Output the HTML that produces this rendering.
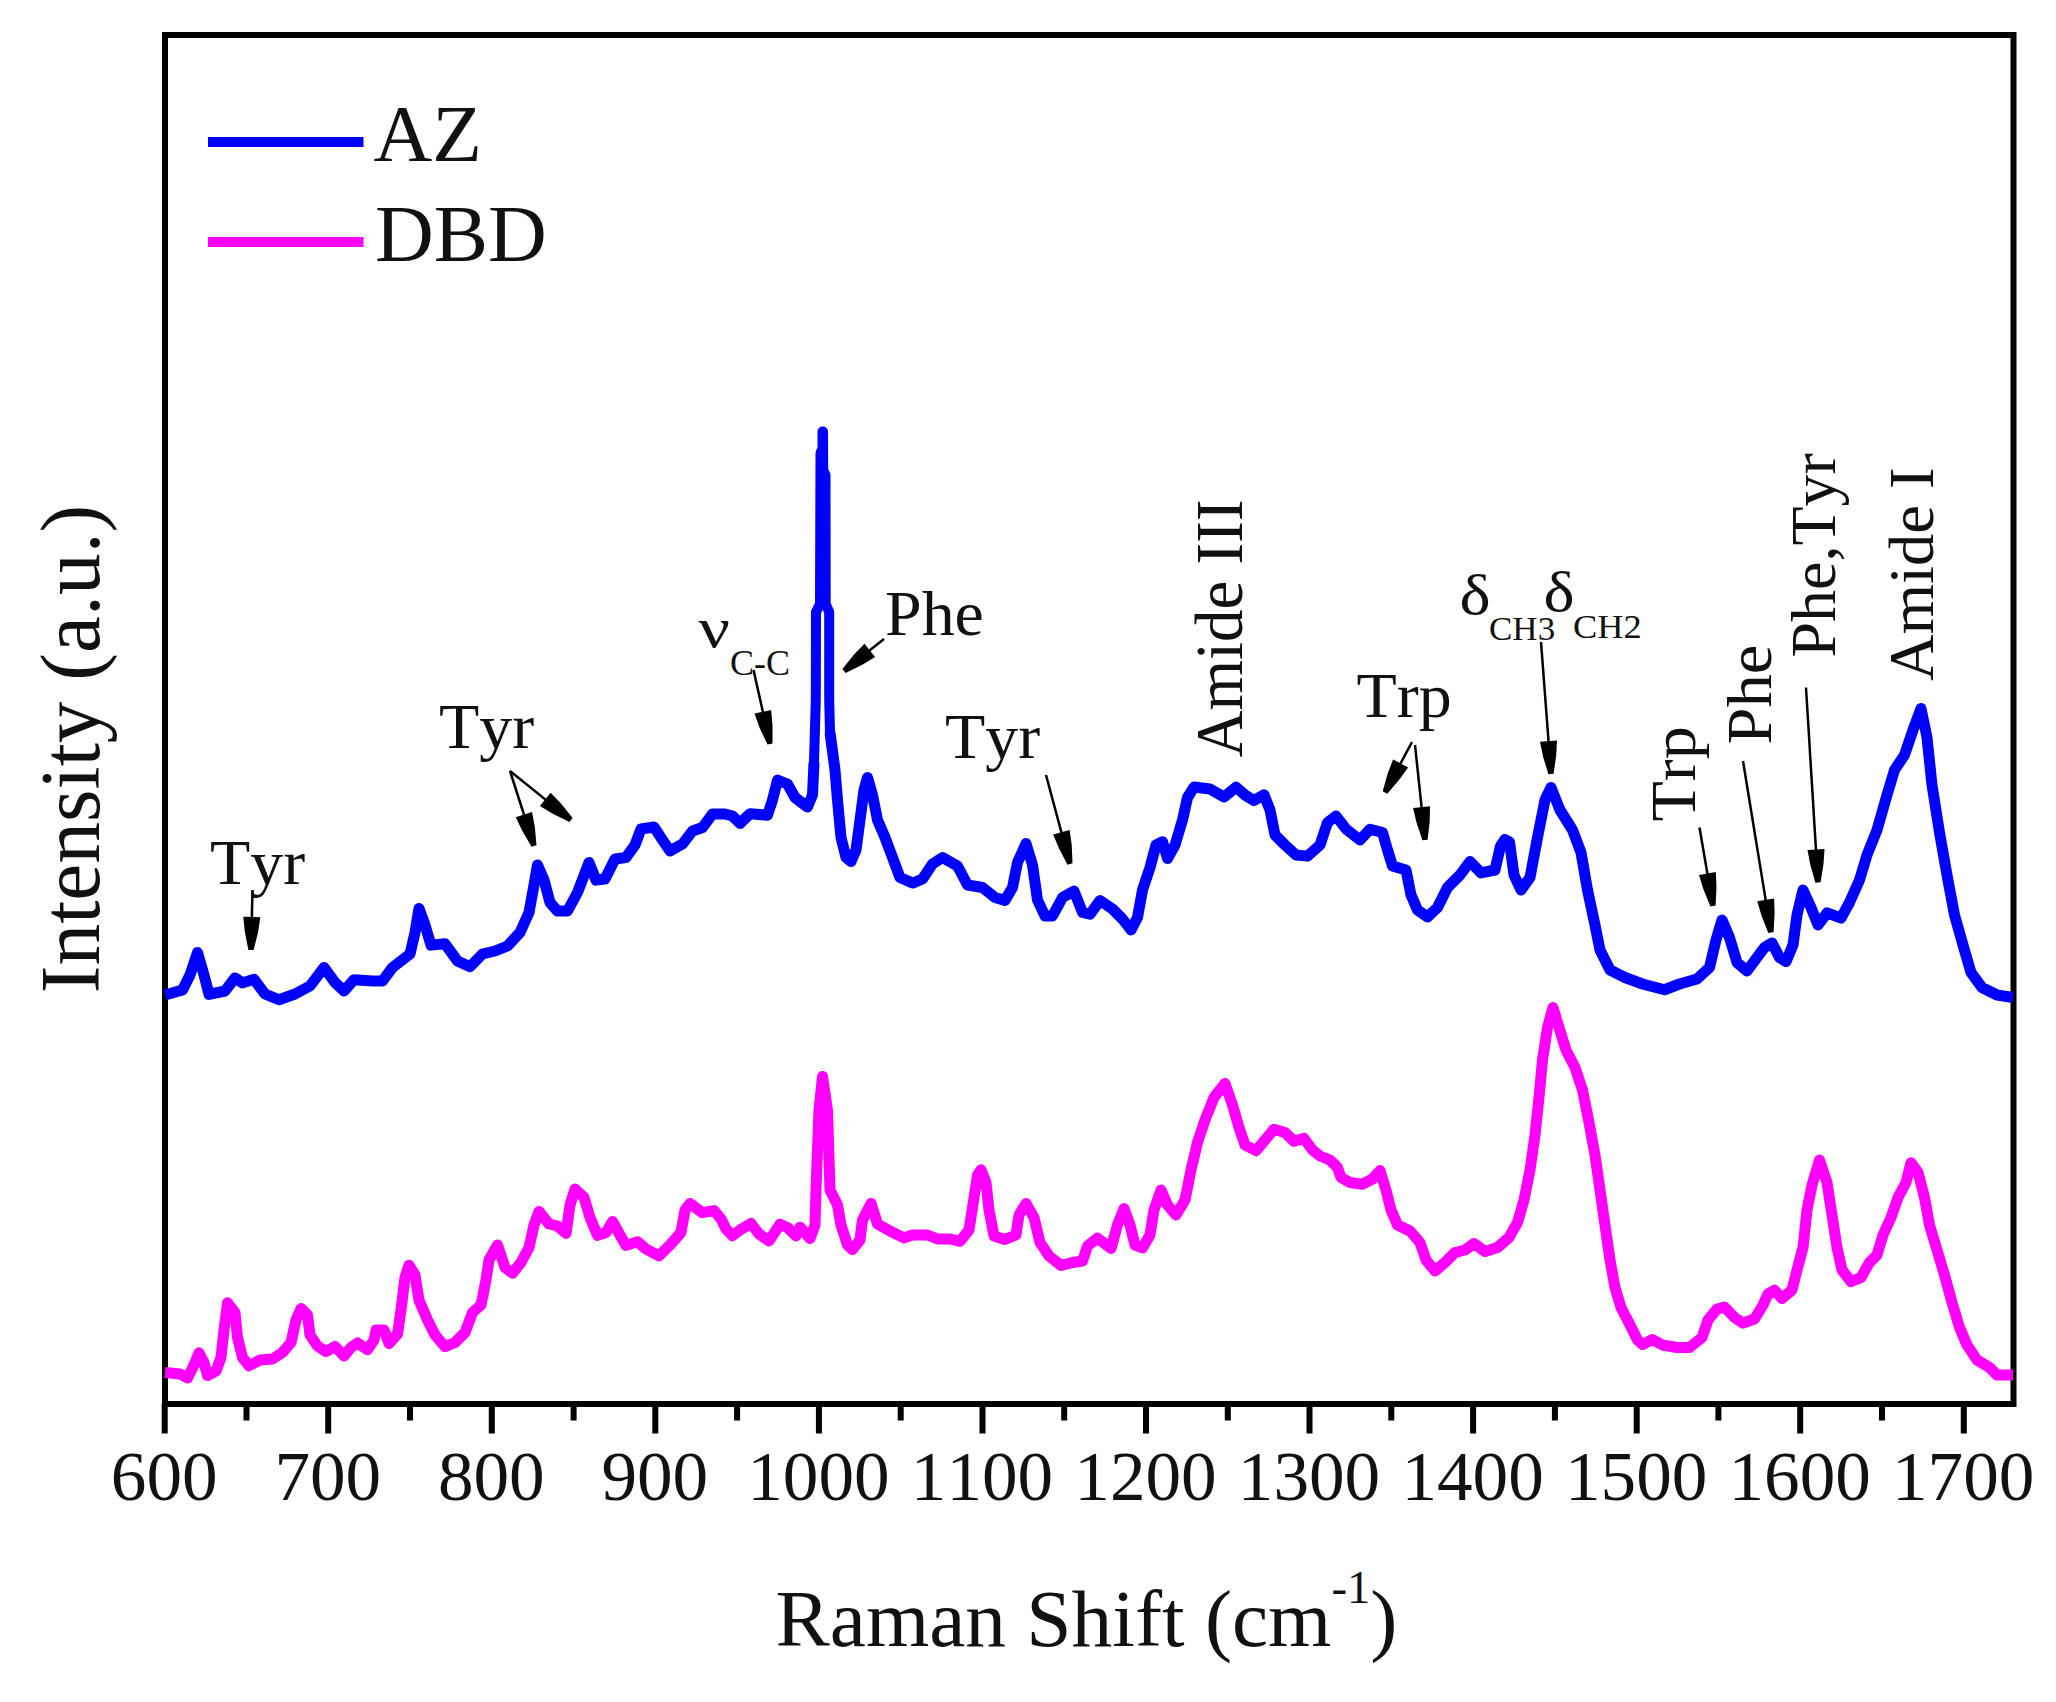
<!DOCTYPE html>
<html><head><meta charset="utf-8"><title>Raman spectra</title>
<style>
html,body{margin:0;padding:0;background:#fff;}
body{width:2056px;height:1702px;overflow:hidden;}
svg{display:block;}
svg text{font-kerning:none;font-family:"Liberation Serif","Times New Roman",serif;fill:#111;}
</style></head><body>
<svg width="2056" height="1702" viewBox="0 0 2056 1702">
<rect width="2056" height="1702" fill="#fff"/>
<rect x="165" y="35" width="1848.5" height="1369" fill="none" stroke="#000" stroke-width="6"/>
<g fill="none" stroke-linejoin="round" stroke-linecap="butt" stroke-width="11">
<polyline stroke="#0000ff" points="165,995 182.5,990 190,975 197.5,952.5 204,975 209,994.45 225,991 235,977.95 242.5,982.875 254,979.25 265,994 279,999.75 295,994 310,986 324,967.5 335,982.5 344,991 354,979.7 372.5,981 382.5,981 392.5,967.5 410,954 415,932.5 419,908.5 425,925 431,945.15 445,943.7 457.5,961 470,966.75 482.5,954 495,951 507.5,946 520,932.5 529,912.5 534,885 537.5,865 544,880 550,902.5 557.5,911 567.5,911 577.5,892.5 589,862.5 596,880.15 605,879 615,859 626,857.5 635,845 641,829 654,827.05 662.5,840 670,850.9 682.5,844 692.5,831 702.5,827.5 712.5,814 725,814 732.5,816 740,823.475 750,813.7 767.5,815.15 772.5,800 777.5,780.1 787.5,784 795,797.5 807.5,807 812.5,795 814,762.5"/>
<polyline stroke="#0000ff" stroke-width="10" stroke-linecap="round" points="814,762.5 815.8,700 816,612 820,604 820.5,453 822.5,448 822.5,431.5 823,431.5 823.2,470 825.5,475 825.7,604 829.2,612 829.2,700 830,732.5"/>
<polyline stroke="#0000ff" points="830,732.5 835,770 837.5,800 841,837.5 846,857.5 851,861.525 856,850 860,820 864,790 867.5,777.5 872.5,795 877.5,820 885,837.5 892.5,857.5 900,877.5 912.5,883.025 922.5,879 932.5,864 942.5,857.5 957.5,866 967.5,885 982.5,887.5 995,897.5 1005,900.375 1012.5,887.5 1017.5,862.5 1026,843.5 1032.5,865 1037.5,900 1045,916 1052.5,916 1062.5,897.5 1074,891 1082.5,912.5 1090,914.225 1100,900.55 1112.5,909 1122.5,919 1131,930 1137.5,917.5 1142.5,890 1150,867.5 1156,845 1162.5,841.75 1167.5,858.5 1175,845 1182.5,820 1187.5,797.5 1194,787.05 1210,789 1224,797 1236,787.2 1245,795 1254,800.6 1264,794.8 1270,810 1275,835 1285,845 1296,855 1307.5,856.15 1320,845 1327.5,822.5 1336,816 1346,829 1360,840 1370,829.25 1382.5,832.5 1387.5,850 1392.5,866 1406,870 1411,895 1417.5,910 1427.5,916.9 1437.5,907.5 1447.5,887.5 1460,875 1470,861.5 1481,872.875 1495,870 1500.5,846 1505,839.4 1509.5,842 1514,875 1521,890 1530,877.5 1537.5,837.5 1545,800 1551,787.5 1560,810 1572.5,830 1581,852.5 1587.5,890 1595,925 1600,950 1610,970 1625,977.5 1642.5,984 1664.5,989.75 1679.5,984 1697,979 1709.5,967.5 1716,940 1722,920 1729.5,937.5 1737,962.5 1747,971 1757,957.5 1764.5,947.5 1772,942.95 1779.5,957.5 1786,961.525 1793,945 1797,915 1803,890 1811,907.5 1818,925 1827,912.95 1841,918.025 1849.5,902.5 1859.5,880 1867,855 1877,830 1887,795 1894.5,770 1904.5,755 1913,730 1921,708.5 1927,737.5 1932,785 1939.5,832.5 1947,875 1954.5,915 1963,945 1971,972.5 1982,987.5 1997,995 2013,997.5"/>
<polyline stroke="#ff00ff" points="165,1372.5 180,1374 187.5,1378.03 194,1365 199,1352.75 204,1362.5 207.5,1375.6 216,1371 221,1357.5 224,1330 227.5,1302.75 235,1312.5 237.5,1337.5 242.5,1357.5 249,1365.75 260,1360 272.5,1359 282.5,1352.5 291,1342.5 296,1320 301,1308.5 307.5,1315 310,1335 317.5,1346 326,1351.53 335,1346.45 344,1356 351,1347.5 357.5,1342.95 367.5,1349.75 374,1340 376,1330 384,1330 389,1343.5 397.5,1334 401,1310 405,1277.5 409,1265.25 415,1275 419,1300 427.5,1320 435,1335 445,1346.53 455,1342.5 465,1332.5 472.5,1312.5 481,1305 486,1280 489,1260 497.5,1245 505,1267.5 512.5,1273.25 521,1262.5 529,1247.5 534,1225 539,1211.5 549,1224 557.5,1226 566,1233.47 570,1205 575,1189.05 584,1197.5 590,1217.5 597.5,1235.38 606,1232.5 612.5,1221.5 620,1235 626,1245.38 637.5,1241.75 646,1249 659,1255.9 670,1245 681,1232.5 685,1210 690,1203.5 702.5,1212.72 714,1210.55 721,1219 726,1229 732.5,1235.75 740,1230 751,1223.5 759,1234 769,1240.9 780,1224.25 787.5,1227.5 796,1235.9 800,1227.2 810,1238.5 815,1225 816,1190 819,1110 822.5,1076.5 827.5,1110 830,1190 837.5,1205 841,1225 847.5,1245 852.5,1249.6 860,1240 862.5,1220 871,1203.5 877.5,1224 890,1231 904,1237.88 912.5,1235 927.5,1235 937.5,1239 950,1239 960,1241.3 969,1230 972.5,1207.5 977.5,1175 981,1169.8 986,1182.5 989,1210 994,1236 1005,1239.45 1016,1235 1019,1215 1026,1203.5 1034,1217.5 1040,1242.5 1049,1256 1061,1265.38 1072.5,1262.5 1082.5,1261 1087.5,1246 1097.5,1238.2 1111,1248.5 1117.5,1225 1124,1208.5 1130,1225 1135,1245 1142.5,1247.88 1150,1235 1154,1210 1161,1190 1167.5,1205 1176,1215 1185,1200 1191,1170 1197.5,1142.5 1205,1120 1214,1097.5 1225,1083.5 1232.5,1105 1239,1127.5 1245,1145 1256,1150.75 1265,1140 1274,1129.25 1285,1132.5 1294,1141.3 1304,1138.4 1312.5,1150 1320,1156 1330,1160 1337.5,1167.5 1341,1177.5 1350,1182.5 1362.5,1184.22 1372.5,1179 1380,1170.55 1386,1190 1391,1210 1397.5,1225 1410,1231 1420,1242.5 1426,1260 1435,1271 1445,1262.5 1455,1252.5 1465,1250 1474,1243.5 1485,1251.53 1497.5,1247.5 1509,1237.5 1517.5,1222.5 1524,1200 1530,1170 1535,1135 1539,1097.5 1542.5,1060 1547.5,1027.5 1553,1007.5 1559,1027.5 1566,1050 1575,1067.5 1582.5,1090 1589,1122.5 1595,1155 1600,1190 1605,1225 1610,1260 1615,1287.5 1621,1307.5 1630,1325 1637.5,1340 1642.5,1344.53 1652.5,1339.45 1662.5,1345 1677,1347.5 1689.5,1347.5 1702,1337.5 1708,1320 1717,1309 1724.5,1307.05 1734.5,1317.5 1743,1323.03 1754.5,1319 1763,1305 1768,1294 1774.5,1290.1 1782,1298.47 1792,1290 1797,1270 1803,1247.5 1807,1210 1812,1185 1819.5,1160 1827,1182.5 1832,1215 1837,1247.5 1842,1270 1851,1281.53 1861,1277.5 1869.5,1262.5 1877,1255 1883,1235 1891,1217.5 1898,1197.5 1906,1182.5 1911,1162.75 1918,1172.5 1924.5,1197.5 1929.5,1225 1937,1250 1944.5,1275 1952,1302.5 1959.5,1327.5 1967,1345 1977,1360 1989.5,1367.5 1997,1375 2013,1375"/>
</g>
<g stroke="#000" stroke-width="6">
<line x1="164.7" y1="1404" x2="164.7" y2="1433.5"/><line x1="328.2" y1="1404" x2="328.2" y2="1433.5"/><line x1="491.8" y1="1404" x2="491.8" y2="1433.5"/><line x1="655.3" y1="1404" x2="655.3" y2="1433.5"/><line x1="818.9" y1="1404" x2="818.9" y2="1433.5"/><line x1="982.5" y1="1404" x2="982.5" y2="1433.5"/><line x1="1146.0" y1="1404" x2="1146.0" y2="1433.5"/><line x1="1309.5" y1="1404" x2="1309.5" y2="1433.5"/><line x1="1473.1" y1="1404" x2="1473.1" y2="1433.5"/><line x1="1636.7" y1="1404" x2="1636.7" y2="1433.5"/><line x1="1800.2" y1="1404" x2="1800.2" y2="1433.5"/><line x1="1963.8" y1="1404" x2="1963.8" y2="1433.5"/><line x1="246.5" y1="1404" x2="246.5" y2="1420.5"/><line x1="410.0" y1="1404" x2="410.0" y2="1420.5"/><line x1="573.6" y1="1404" x2="573.6" y2="1420.5"/><line x1="737.1" y1="1404" x2="737.1" y2="1420.5"/><line x1="900.7" y1="1404" x2="900.7" y2="1420.5"/><line x1="1064.2" y1="1404" x2="1064.2" y2="1420.5"/><line x1="1227.8" y1="1404" x2="1227.8" y2="1420.5"/><line x1="1391.3" y1="1404" x2="1391.3" y2="1420.5"/><line x1="1554.9" y1="1404" x2="1554.9" y2="1420.5"/><line x1="1718.4" y1="1404" x2="1718.4" y2="1420.5"/><line x1="1882.0" y1="1404" x2="1882.0" y2="1420.5"/>
</g>
<g font-size="70">
<text transform="translate(164.2,1499.8) scale(1.017,1)" text-anchor="middle">600</text><text transform="translate(327.8,1499.8) scale(1.017,1)" text-anchor="middle">700</text><text transform="translate(491.3,1499.8) scale(1.017,1)" text-anchor="middle">800</text><text transform="translate(654.8,1499.8) scale(1.017,1)" text-anchor="middle">900</text><text transform="translate(818.4,1499.8) scale(1.017,1)" text-anchor="middle">1000</text><text transform="translate(982.0,1499.8) scale(1.017,1)" text-anchor="middle">1100</text><text transform="translate(1145.5,1499.8) scale(1.017,1)" text-anchor="middle">1200</text><text transform="translate(1309.0,1499.8) scale(1.017,1)" text-anchor="middle">1300</text><text transform="translate(1472.6,1499.8) scale(1.017,1)" text-anchor="middle">1400</text><text transform="translate(1636.2,1499.8) scale(1.017,1)" text-anchor="middle">1500</text><text transform="translate(1799.7,1499.8) scale(1.017,1)" text-anchor="middle">1600</text><text transform="translate(1963.2,1499.8) scale(1.017,1)" text-anchor="middle">1700</text>
</g>
<line x1="208" y1="142" x2="363.5" y2="142" stroke="#0000ff" stroke-width="10"/>
<line x1="208" y1="242" x2="363.5" y2="242" stroke="#ff00ff" stroke-width="10"/>
<text transform="translate(373.5,160.7) scale(1.017,1)" font-size="80">AZ</text>
<text transform="translate(375,260.5) scale(1.017,1)" font-size="80">DBD</text>
<text id="xt" transform="translate(775.6,1645.6) scale(1.017,1)" font-size="80">Raman Shift (cm<tspan font-size="46" dy="-43" dx="0">-1</tspan><tspan dy="43" dx="0">)</tspan></text>
<text id="yt" transform="translate(98.9,993.3) rotate(-90) scale(1,1.02)" font-size="83.4">Intensity (a.u.)</text>
<g font-size="64">
<text transform="translate(210.0,883.5) scale(1.03,1)">Tyr</text>
<text transform="translate(439.0,747.5) scale(1.03,1)">Tyr</text>
<text transform="translate(945.0,757.5) scale(1.03,1)">Tyr</text>
<text transform="translate(885.0,634.5) scale(1.03,1)">Phe</text>
<text transform="translate(1356.5,716.5) scale(1.03,1)">Trp</text>
<text transform="translate(698.5,647) scale(1.2,1)" font-size="58">ν</text>
<text x="730" y="674.5" font-size="36">C-C</text>
<text transform="translate(1459.5,613.5) scale(1.18,1)" font-size="56">δ</text>
<text transform="translate(1489,639.5) scale(1.03,1)" font-size="34">CH3</text>
<text transform="translate(1543.5,610.5) scale(1.18,1)" font-size="56">δ</text>
<text transform="translate(1573,637.5) scale(1.07,1)" font-size="34">CH2</text>
<text transform="translate(1242,757.5) rotate(-90) scale(1.0,1.054)" font-size="65">Amide III</text>
<text transform="translate(1695,821.5) rotate(-90) scale(1.03,1.0)" font-size="64">Trp</text>
<text transform="translate(1771,744.5) rotate(-90) scale(1.04,1.0)" font-size="64">Phe</text>
<text transform="translate(1834.5,657.5) rotate(-90) scale(1.0,1.0)" font-size="64">Phe,Tyr</text>
<text transform="translate(1933,681) rotate(-90) scale(1.01,1.0)" font-size="64">Amide I</text>
</g>
<line x1="252.5" y1="890" x2="251.8" y2="919.0" stroke="#000" stroke-width="2.5"/><polygon points="243.3,916.8 244.8,931.7 248.4,949.9 253.6,950.1 258.1,932.0 260.3,917.2" fill="#000"/><line x1="510" y1="771" x2="524.6" y2="816.5" stroke="#000" stroke-width="2.5"/><polygon points="515.8,817.2 522.2,830.7 531.5,846.8 536.5,845.2 534.8,826.7 532.0,812.0" fill="#000"/><line x1="510" y1="771" x2="546.8" y2="800.6" stroke="#000" stroke-width="2.5"/><polygon points="539.9,806.0 552.7,813.8 569.4,822.0 572.6,818.0 561.0,803.5 550.6,792.7" fill="#000"/><line x1="753.5" y1="670" x2="763.3" y2="713.7" stroke="#000" stroke-width="2.5"/><polygon points="754.5,713.6 759.6,727.7 767.5,744.6 772.5,743.4 772.5,724.8 771.1,709.9" fill="#000"/><line x1="884" y1="639" x2="868.2" y2="651.6" stroke="#000" stroke-width="2.5"/><polygon points="864.5,643.7 854.0,654.5 842.4,669.0 845.6,673.0 862.3,664.8 875.1,657.0" fill="#000"/><line x1="1046" y1="775" x2="1061.9" y2="834.1" stroke="#000" stroke-width="2.5"/><polygon points="1053.2,834.4 1058.9,848.2 1067.5,864.7 1072.5,863.3 1071.7,844.7 1069.6,829.9" fill="#000"/><line x1="1412" y1="742" x2="1399.6" y2="765.2" stroke="#000" stroke-width="2.5"/><polygon points="1393.1,759.4 1387.7,773.4 1382.7,791.3 1387.3,793.7 1399.4,779.6 1408.1,767.4" fill="#000"/><line x1="1415" y1="745" x2="1421.8" y2="809.2" stroke="#000" stroke-width="2.5"/><polygon points="1413.1,808.1 1416.5,822.6 1422.4,840.3 1427.6,839.7 1429.7,821.3 1430.0,806.3" fill="#000"/><line x1="1541" y1="642" x2="1548.7" y2="743.1" stroke="#000" stroke-width="2.5"/><polygon points="1540.0,741.7 1543.0,756.4 1548.4,774.2 1553.6,773.8 1556.2,755.4 1557.0,740.5" fill="#000"/><line x1="1699.5" y1="827.5" x2="1707.7" y2="875.4" stroke="#000" stroke-width="2.5"/><polygon points="1699.0,874.9 1703.4,889.2 1710.4,906.4 1715.6,905.6 1716.5,887.0 1715.8,872.0" fill="#000"/><line x1="1743" y1="761" x2="1766.0" y2="901.9" stroke="#000" stroke-width="2.5"/><polygon points="1757.3,901.3 1761.5,915.7 1768.4,932.9 1773.6,932.1 1774.6,913.5 1774.1,898.6" fill="#000"/><line x1="1806" y1="687.5" x2="1816.1" y2="851.6" stroke="#000" stroke-width="2.5"/><polygon points="1807.5,850.1 1810.3,864.8 1815.4,882.7 1820.6,882.3 1823.5,864.0 1824.5,849.0" fill="#000"/>
</svg>
</body></html>
